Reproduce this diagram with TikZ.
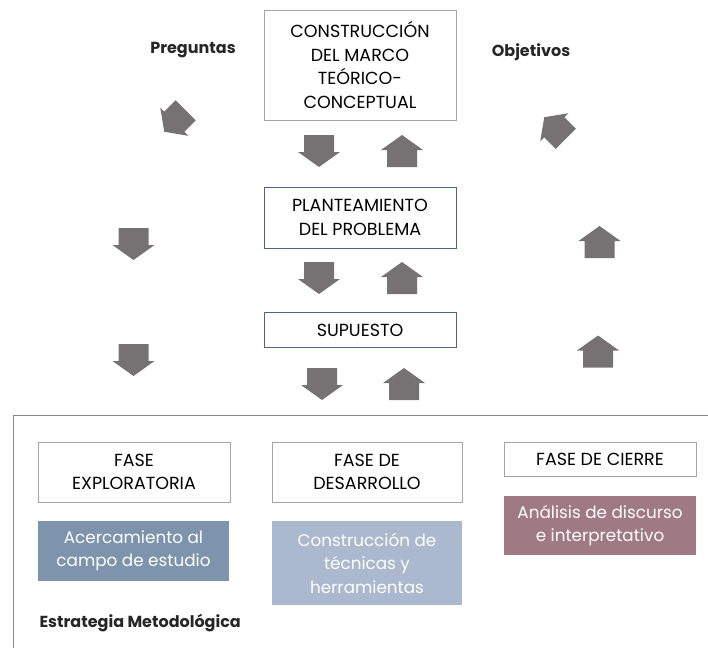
\documentclass[tikz,border=0pt]{standalone}
\usepackage{fontspec}
\setmainfont{Poppins}
\usetikzlibrary{positioning}
\definecolor{arrowgray}{RGB}{118,113,114}
\definecolor{boxgray}{RGB}{165,165,165}
\definecolor{boxblue}{RGB}{75,100,135}
\definecolor{framegray}{RGB}{135,135,135}
\definecolor{explfill}{RGB}{125,148,172}
\definecolor{desafill}{RGB}{170,185,205}
\definecolor{cierrefill}{RGB}{160,122,130}

\tikzset{
    pics/blockarr/.style={code={
        \fill[arrowgray] (-16,-15) -- (1,-15) -- (1,-21) -- (16,0) -- (1,21) -- (1,15) -- (-16,15) -- cycle;
    }}
}

\begin{document}
\begin{tikzpicture}[
    x=1pt, y=-1pt,
    textbox/.style={
        draw=#1,
        line width=0.6pt,
        align=center,
        font=\fontsize{17.5}{23.5}\selectfont,
        inner sep=0pt,
        minimum width=192pt
    },
    textbox/.default=boxgray,
    fillbox/.style={
        fill=#1,
        text=white,
        align=center,
        font=\fontsize{16.8}{23.5}\selectfont,
        inner sep=0pt,
        minimum width=191pt
    },
    lbl/.style={font=\fontsize{16}{18}\selectfont\bfseries, text=black!85}
]
\useasboundingbox (0,0) rectangle (708,648);

% === Central column ===
\node[textbox, minimum height=110pt] (marco) at (360,65) {CONSTRUCCIÓN\\DEL MARCO\\TEÓRICO-\\CONCEPTUAL};
\node[textbox=boxblue, minimum height=61pt] (plan) at (360,217.5) {PLANTEAMIENTO\\DEL PROBLEMA};
\node[textbox=boxblue, minimum height=35pt] (sup) at (360,330) {SUPUESTO};

% === Side labels ===
\node[lbl] (preg) at (193,50) {Preguntas};
\node[lbl] (obj) at (531,52) {Objetivos};

% === Block arrows ===
\pic[rotate=-90] at (319,151) {blockarr};
\pic[rotate=90] at (402,151) {blockarr};
\pic[rotate=-90] at (319,278) {blockarr};
\pic[rotate=90] at (402,278) {blockarr};
\pic[rotate=-90] at (322,384) {blockarr};
\pic[rotate=90] at (404,384) {blockarr};
\pic[rotate=-90] at (133.5,244) {blockarr};
\pic[rotate=-90] at (133.5,360) {blockarr};
\pic[rotate=90] at (599.5,242) {blockarr};
\pic[rotate=90] at (598,351.5) {blockarr};
\pic[rotate=225, scale=0.95] at (175,121) {blockarr};
\pic[rotate=135, scale=0.95] at (555,128) {blockarr};

% === Estrategia frame ===
\coordinate (frametl) at (13,415);
\coordinate (frametr) at (708,415);
\coordinate (framebl) at (13,648);
\draw[framegray, line width=0.8pt] (framebl) -- (frametl) -- (frametr);

% === Phases ===
\node[textbox, minimum height=60pt] (expl) at (134,472) {FASE\\EXPLORATORIA};
\node[textbox, minimum height=60pt, minimum width=190pt] (desa) at (367,472) {FASE DE\\DESARROLLO};
\node[textbox, minimum height=34pt] (cierre) at (600,459) {FASE DE CIERRE};

\node[fillbox=explfill, minimum height=60pt] (acerc) at (133.5,551) {Acercamiento al\\campo de estudio};
\node[fillbox=desafill, minimum height=84pt, minimum width=190pt] (tecn) at (367,563) {Construcción de\\técnicas y\\herramientas};
\node[fillbox=cierrefill, minimum height=59pt, minimum width=192pt] (anal) at (600,525.5) {Análisis de discurso\\e interpretativo};

\node[lbl, anchor=west] (estr) at (36,623) {Estrategia Metodológica};

\end{tikzpicture}
\end{document}
